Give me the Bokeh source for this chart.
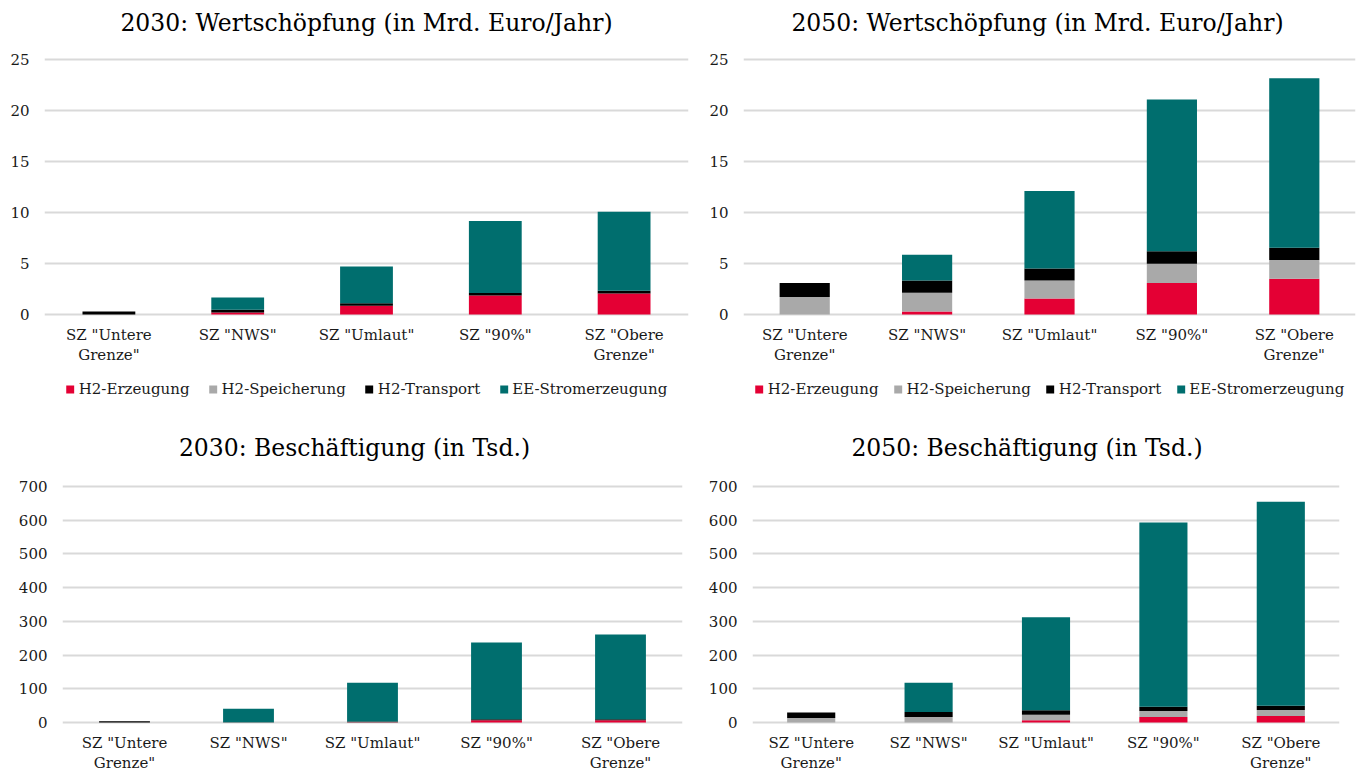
from bokeh.plotting import figure
from bokeh.models import (FactorRange, Range1d, FixedTicker, Legend, LegendItem,
                          ColumnDataSource)
from bokeh.core.properties import value
from bokeh.layouts import column, row
from bokeh.embed import file_html
from bokeh.resources import INLINE

# ---------------- data ----------------
categories = ['SZ "Untere Grenze"', 'SZ "NWS"', 'SZ "Umlaut"', 'SZ "90%"', 'SZ "Obere Grenze"']
label_line1 = ['SZ "Untere', 'SZ "NWS"', 'SZ "Umlaut"', 'SZ "90%"', 'SZ "Obere']
label_line2 = ['Grenze"', '', '', '', 'Grenze"']
series_names = ["H2-Erzeugung", "H2-Speicherung", "H2-Transport", "EE-Stromerzeugung"]
series_colors = ["#E40034", "#A9A9A9", "#000000", "#006E6E"]

# 2030: Wertschöpfung (Mrd. Euro/Jahr)
ws2030_erzeugung = [0.0, 0.2, 0.85, 1.86, 2.06]
ws2030_speicherung = [0.0, 0.0, 0.0, 0.0, 0.0]
ws2030_transport = [0.3, 0.26, 0.26, 0.26, 0.26]
ws2030_ee = [0.0, 1.2, 3.6, 7.04, 7.75]

# 2050: Wertschöpfung (Mrd. Euro/Jahr)
ws2050_erzeugung = [0.0, 0.3, 1.57, 3.1, 3.5]
ws2050_speicherung = [1.72, 1.84, 1.77, 1.87, 1.84]
ws2050_transport = [1.38, 1.2, 1.18, 1.22, 1.21]
ws2050_ee = [0.0, 2.52, 7.58, 14.9, 16.6]

# 2030: Beschäftigung (Tsd.)
b2030_erzeugung = [0.0, 0.3, 1.0, 7.0, 7.0]
b2030_speicherung = [0.0, 0.0, 0.0, 0.0, 0.0]
b2030_transport = [4.0, 0.5, 2.0, 3.0, 3.0]
b2030_ee = [0.0, 40.0, 115.0, 227.0, 251.0]

# 2050: Beschäftigung (Tsd.)
b2050_erzeugung = [0.0, 0.0, 7.0, 16.0, 19.0]
b2050_speicherung = [13.0, 16.0, 16.0, 18.0, 18.0]
b2050_transport = [17.0, 15.0, 13.0, 13.0, 13.0]
b2050_ee = [0.0, 87.0, 276.0, 546.0, 605.0]

y_ticks_ws = [0, 5, 10, 15, 20, 25]
y_ticks_b = [0, 100, 200, 300, 400, 500, 600, 700]

FONT = "DejaVu Serif"
TEXT_COLOR = "#1a1a1a"


def make_chart(title, values, ymax, ticks, width, height, mbl, mbr,
               above_px, plot_px, below_px, label_offsets, title_dy, title_dx,
               legend_spacing):
    data = {"cat": categories, "l1": label_line1, "l2": label_line2}
    keys = ["s0", "s1", "s2", "s3"]
    for k, v in zip(keys, values):
        data[k] = v
    source = ColumnDataSource(data)

    # room above/below the value range for title, category labels and legend
    ymin = -ymax * below_px / plot_px
    ytop = ymax + ymax * above_px / plot_px

    p = figure(x_range=FactorRange(*categories), y_range=Range1d(ymin, ytop),
               width=width, height=height, output_backend="svg",
               toolbar_location=None,
               min_border_left=mbl, min_border_right=mbr,
               min_border_top=0, min_border_bottom=0)
    p.outline_line_color = None
    p.background_fill_color = "white"
    p.border_fill_color = "white"

    renderers = p.vbar_stack(keys, x="cat", width=0.41, color=series_colors,
                             line_color=None, source=source)

    # category labels (two lines)
    for col, off in zip(["l1", "l2"], label_offsets):
        p.text(x="cat", y=0, text=col, source=source, y_offset=off,
               text_align="center", text_baseline="middle",
               text_font=value(FONT), text_font_size="15px", text_color=TEXT_COLOR)

    # chart title
    p.text(x=[categories[2]], y=[ymax], text=[title], y_offset=title_dy, x_offset=title_dx,
           text_align="center", text_baseline="middle",
           text_font=value(FONT), text_font_size="23.5px", text_color="#000000")

    p.xgrid.grid_line_color = None
    p.ygrid.grid_line_color = "#D9D9D9"
    p.ygrid.grid_line_width = 2
    p.ygrid.ticker = FixedTicker(ticks=ticks)

    p.xaxis.visible = False

    p.yaxis.ticker = FixedTicker(ticks=ticks)
    p.yaxis.axis_line_color = None
    p.yaxis.major_tick_line_color = None
    p.yaxis.minor_tick_line_color = None
    p.yaxis.major_tick_out = 0
    p.yaxis.major_tick_in = 0
    p.yaxis.major_label_standoff = 15
    p.yaxis.major_label_text_font = FONT
    p.yaxis.major_label_text_font_size = "15px"
    p.yaxis.major_label_text_color = TEXT_COLOR

    if legend_spacing is not None:
        items = [LegendItem(label=n, renderers=[r]) for n, r in zip(series_names, renderers)]
        legend = Legend(items=items, orientation="horizontal", location="bottom_center",
                        glyph_width=10, glyph_height=10, label_standoff=4,
                        spacing=legend_spacing, label_height=18,
                        label_text_font=FONT, label_text_font_size="15px",
                        label_text_color=TEXT_COLOR, border_line_color=None,
                        background_fill_alpha=0, margin=7, padding=0)
        p.add_layout(legend)
    return p


# top row: page y 0..405; value range from y=59 to the zero line at y=314
p1 = make_chart("2030: Wertschöpfung (in Mrd. Euro/Jahr)",
                [ws2030_erzeugung, ws2030_speicherung, ws2030_transport, ws2030_ee],
                25, y_ticks_ws, 690, 405, 44, 2, 59, 255, 91, (20.5, 40.5), -37, 0, 18)
p2 = make_chart("2050: Wertschöpfung (in Mrd. Euro/Jahr)",
                [ws2050_erzeugung, ws2050_speicherung, ws2050_transport, ws2050_ee],
                25, y_ticks_ws, 666, 405, 53, 1, 59, 255, 91, (20.5, 40.5), -37, -12, 14)
# bottom row: page y 405..770; value range from y=486 to the zero line at y=722
p3 = make_chart("2030: Beschäftigung (in Tsd.)",
                [b2030_erzeugung, b2030_speicherung, b2030_transport, b2030_ee],
                700, y_ticks_b, 690, 365, 62, 8, 81, 236, 48, (20, 40), -39, -18, None)
p4 = make_chart("2050: Beschäftigung (in Tsd.)",
                [b2050_erzeugung, b2050_speicherung, b2050_transport, b2050_ee],
                700, y_ticks_b, 666, 365, 62, 17, 81, 236, 48, (20, 40), -39, -19, None)

layout = column(row(p1, p2), row(p3, p4))

open("out.html", "w").write(file_html(layout, INLINE))
